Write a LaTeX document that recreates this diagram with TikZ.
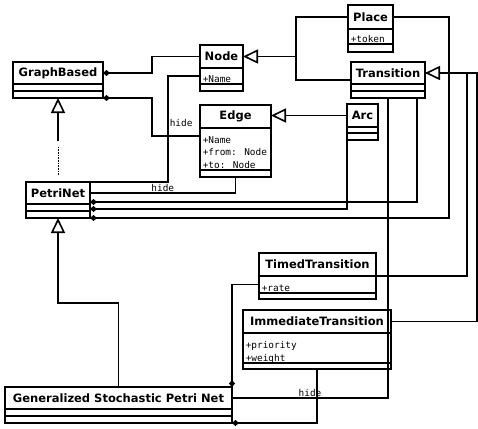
\documentclass[tikz,border=0pt]{standalone}
\usepackage{fontspec}
\usetikzlibrary{positioning,arrows.meta}
\newfontfamily\clsfont{DejaVu Sans}
\newfontfamily\attrfont{DejaVu Sans Mono}

\begin{document}
\begin{tikzpicture}[x=1pt,y=-1pt,line width=1.6pt,
    cls/.style={draw,outer sep=0pt,inner sep=0pt,minimum width=#1,minimum height=22pt,
                font=\clsfont\bfseries\fontsize{11.5}{13}\selectfont},
    cmp/.style={draw,outer sep=0pt,inner sep=0pt,minimum width=#1,minimum height=7pt},
    attr/.style={anchor=base west,inner sep=0pt,align=left,
                 font=\attrfont\fontsize{9.4}{12.5}\selectfont},
    hidelbl/.style={font=\attrfont\fontsize{9.4}{11}\selectfont,inner sep=1pt},
    owns/.style={{Diamond[length=7pt,width=6pt]}-},
    inherits/.style={-{Triangle[open,length=15pt,width=14pt,fill=white]}}]

  \fill[white] (0,0) rectangle (478,428);
  \useasboundingbox (0,0) rectangle (478,428);

  % classes
  \node[cls=90pt] (gb) at (58,73) {GraphBased};
  \node[cmp=90pt,below=0pt of gb] (gb-a) {};
  \node[cmp=90pt,below=0pt of gb-a] (gb-o) {};

  \node[cls=43pt,minimum height=23pt] (nd) at (221.5,56.5) {Node};
  \node[cmp=43pt,minimum height=16pt,below=0pt of nd] (nd-a) {};
  \node[cmp=43pt,below=0pt of nd-a] (nd-o) {};
  \node[attr] at ([shift={(2pt,1.5pt)}]nd-o.north west) {+Name};

  \node[cls=71pt,minimum height=23pt] (ed) at (235.5,116.5) {Edge};
  \node[cmp=71pt,minimum height=42pt,below=0pt of ed] (ed-a) {};
  \node[cmp=71pt,below=0pt of ed-a] (ed-o) {};
  \node[attr] at ([shift={(2pt,2pt)}]ed-o.north west) {+Name\\+from: Node\\+to: Node};

  \node[cls=45pt,minimum height=24pt] (pl) at (370.5,17) {Place};
  \node[cmp=45pt,minimum height=15pt,below=0pt of pl] (pl-a) {};
  \node[cmp=45pt,minimum height=8pt,below=0pt of pl-a] (pl-o) {};
  \node[attr] at ([shift={(2pt,1.5pt)}]pl-o.north west) {+token};

  \node[cls=74pt] (tr) at (388,73) {Transition};
  \node[cmp=74pt,below=0pt of tr] (tr-a) {};
  \node[cmp=74pt,below=0pt of tr-a] (tr-o) {};

  \node[cls=31pt,minimum height=23pt] (arc) at (362.5,115.5) {Arc};
  \node[cmp=31pt,minimum height=6pt,below=0pt of arc] (arc-a) {};
  \node[cmp=31pt,below=0pt of arc-a] (arc-o) {};

  \node[cls=64pt] (pn) at (58,193) {PetriNet};
  \node[cmp=64pt,below=0pt of pn] (pn-a) {};
  \node[cmp=64pt,below=0pt of pn-a] (pn-o) {};

  \node[cls=117pt,minimum height=23pt] (tt) at (317.5,264.5) {TimedTransition};
  \node[cmp=117pt,minimum height=17pt,below=0pt of tt] (tt-a) {};
  \node[cmp=117pt,minimum height=6pt,below=0pt of tt-a] (tt-o) {};
  \node[attr] at ([shift={(2pt,1.5pt)}]tt-o.north west) {+rate};

  \node[cls=148pt,minimum height=23pt] (it) at (317,321.5) {ImmediateTransition};
  \node[cmp=148pt,minimum height=30pt,below=0pt of it] (it-a) {};
  \node[cmp=148pt,minimum height=6pt,below=0pt of it-a] (it-o) {};
  \node[attr] at ([shift={(2pt,2pt)}]it-o.north west) {+priority\\+weight};

  \node[cls=227pt] (gs) at (118.5,398) {Generalized Stochastic Petri Net};
  \node[cmp=227pt,below=0pt of gs] (gs-a) {};
  \node[cmp=227pt,below=0pt of gs-a] (gs-o) {};

  % GraphBased and its parts
  \draw[owns] (gb.east) -- ++(49,0) |- (nd.west);
  \draw[owns] (gb-o.south east) -- ++(49,0) |- ([yshift=-8pt]ed-a.north west);
  \draw[inherits] ([yshift=-43pt]gb-o.south) -- (gb-o.south);
  \draw[line width=1pt,dash pattern=on 0.8pt off 0.8pt] ([yshift=7pt]pn.north) -- ([yshift=-49pt]gb-o.south);

  % Node and Edge subclasses
  \draw ([yshift=-7pt]tr.west) -| ([xshift=53pt]nd.east);
  \draw[inherits] (pl.west) -- ++(-52,0) |- (nd.east);
  \draw[inherits] (arc.west) -- (arc.west -| ed.east);

  % PetriNet
  \draw (pn.north east) -- ++(78,0) |- (nd-a.west) node[hidelbl,pos=0.28,right] {hide};
  \draw (pn.east) -| (ed-o.south) node[hidelbl,pos=0.25,above] {hide};
  \draw[owns] ([yshift=-9pt]pn.east) -| ([xshift=-8pt]tr-o.south east);
  \draw[owns] ([yshift=-16pt]pn.east) -| (arc-o.south west);
  \draw[owns] (pn-o.south east) -- ++(359,0) |- (pl.east);

  % Transition subclasses
  \draw (it.east) -| ([xshift=52pt]tr.east) -- (tr.east);
  \draw[inherits] (tt.south east) -- ++(91,0) |- (tr.east);

  % Generalized Stochastic Petri Net
  \draw[inherits] (gs.north) |- ([yshift=-85pt]pn-o.south) -- (pn-o.south);
  \draw[owns] (gs.north east) |- (tt-a.west);
  \draw (gs.east) -| (tr-o.south) node[hidelbl,pos=0.25,above] {hide};
  \draw[owns] (gs-o.south east) -| (it-o.south);
\end{tikzpicture}
\end{document}
